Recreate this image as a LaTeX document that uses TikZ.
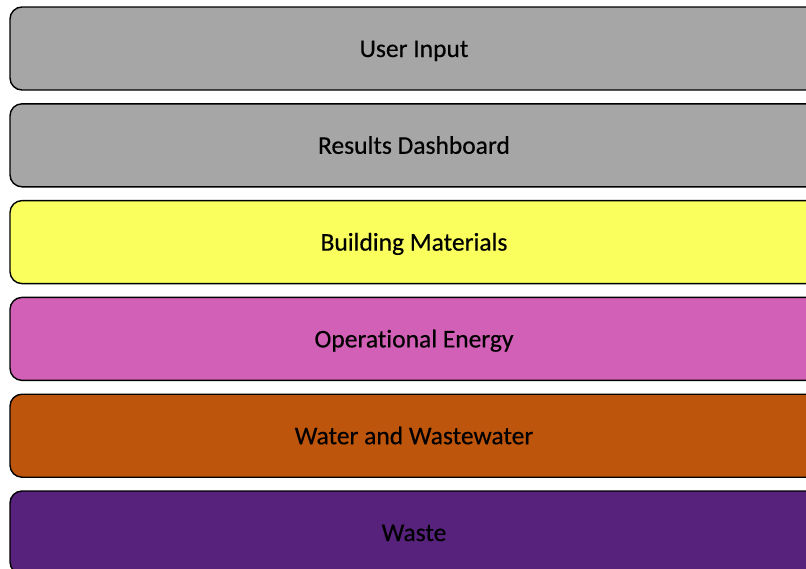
\documentclass[tikz,border=0pt]{standalone}
\usepackage{fontspec}
\setmainfont{Carlito}[Ligatures=NoCommon, FakeBold=0.4]
\begin{document}
\begin{tikzpicture}[x=1pt,y=-1pt,
  layer/.style={draw=black, line width=1.4pt, rounded corners=12pt,
    minimum width=808pt, minimum height=83pt, inner sep=0pt,
    text height=19pt, text depth=2pt,
    font=\fontsize{25.5}{30}\selectfont, text=black},
]
\definecolor{cgray}{RGB}{166,166,166}
\definecolor{cyellow}{RGB}{250,255,94}
\definecolor{cpink}{RGB}{209,96,182}
\definecolor{corange}{RGB}{190,85,12}
\definecolor{cpurple}{RGB}{86,34,124}
\useasboundingbox (0,0) rectangle (806,568);
\clip (0,0) rectangle (806,568);
\node[layer, fill=cgray]    (input)    at (414,48.5)  {User Input};
\node[layer, fill=cgray]    (results)  at (414,145.3) {Results Dashboard};
\node[layer, fill=cyellow]  (material) at (414,242.1) {Building Materials};
\node[layer, fill=cpink]    (energy)   at (414,338.9) {Operational Energy};
\node[layer, fill=corange]  (water)    at (414,435.7) {Water and Wastewater};
\node[layer, fill=cpurple]  (waste)    at (414,532.5) {Waste};
\end{tikzpicture}
\end{document}
